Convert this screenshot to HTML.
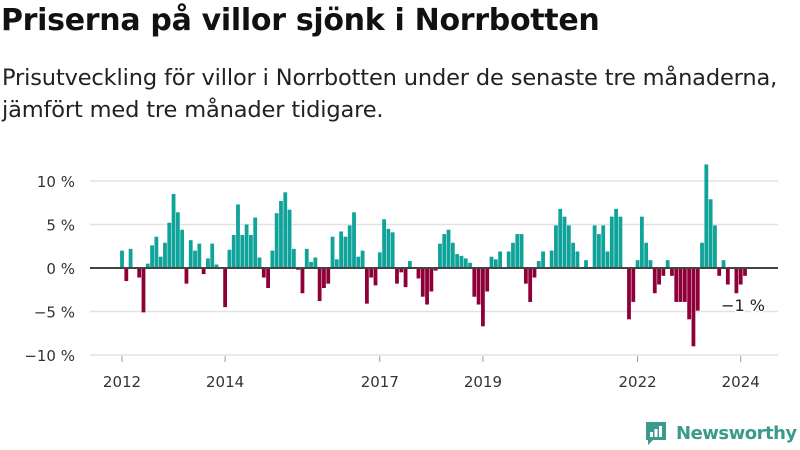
<!DOCTYPE html>
<html><head><meta charset="utf-8"><style>
body{margin:0;width:800px;height:450px;background:#fff;font-family:"DejaVu Sans","Liberation Sans",sans-serif;overflow:hidden;position:relative}
h1{position:absolute;left:1px;top:3px;margin:0;font-size:30px;font-weight:bold;color:#111;letter-spacing:-0.3px;white-space:nowrap}
.sub{position:absolute;left:2px;top:62px;font-size:22.5px;line-height:32px;color:#222;letter-spacing:-0.15px;white-space:nowrap}
svg{position:absolute;left:0;top:0}
svg text{font-family:"DejaVu Sans","Liberation Sans",sans-serif}
</style></head><body>
<h1>Priserna på villor sjönk i Norrbotten</h1>
<div class="sub">Prisutveckling för villor i Norrbotten under de senaste tre månaderna,<br>jämfört med tre månader tidigare.</div>
<svg id="c" width="800" height="450"></svg>
<script>
const values=[2,-1.5,2.2,0.1,-1.1,-5.1,0.5,2.6,3.6,1.3,2.9,5.2,8.5,6.4,4.4,-1.8,3.2,2.0,2.8,-0.7,1.1,2.8,0.4,0,-4.5,2.1,3.8,7.3,3.8,5.0,3.8,5.8,1.2,-1.1,-2.3,2.0,6.3,7.7,8.7,6.7,2.2,-0.2,-2.9,2.2,0.7,1.2,-3.8,-2.3,
-1.8,3.6,1.0,4.2,3.6,4.9,6.4,1.3,2.0,-4.1,-1.1,-2.0,1.8,5.6,4.5,4.1,-1.8,-0.5,-2.2,0.8,-0.1,-1.2,-3.3,-4.2,-2.7,-0.3,2.8,3.9,4.4,2.9,1.6,1.4,1.1,0.6,-3.3,-4.2,-6.7,-2.7,1.3,1.0,1.9,0,1.9,2.9,3.9,3.9,-1.8,-3.9,-1.1,0.8,1.9,0,2.0,4.9,6.8,
5.9,4.9,2.9,1.9,0,0.9,0,4.9,3.9,4.9,1.9,5.9,6.8,5.9,0,-5.9,-3.9,0.9,5.9,2.9,0.9,-2.9,-1.9,-0.9,0.9,-0.9,-3.9,-3.9,-3.9,-5.9,-9.0,-4.9,2.9,11.9,7.9,4.9,-0.9,0.9,-1.9,0,-2.9,-1.9,-0.9];
const yTicks=[10,5,0,-5,-10];
const yTickLabels=["10 %","5 %","0 %","−5 %","−10 %"];
const xTickIdx=[0,24,60,84,120,144];
const xTickLabels=["2012","2014","2017","2019","2022","2024"];
const lastLabel="−1 %";
const svg=document.getElementById('c');const NS="http://www.w3.org/2000/svg";
const x=i=>122+i*(623/(values.length-1));
const y=v=>268-v*8.7;
function el(t,a,p){const e=document.createElementNS(NS,t);for(const k in a)e.setAttribute(k,a[k]);(p||svg).appendChild(e);return e;}
yTicks.forEach((t,i)=>{
 const g=el('line',{x1:90,x2:778,y1:y(t),y2:y(t),stroke:'#e2e2e2','stroke-width':1.5});
 
 
 const l=el('text',{x:75,y:y(t)+6,'text-anchor':'end','font-size':15,fill:'#333'});
 l.textContent=yTickLabels[i];
 
 
});
values.forEach((v,i)=>{
 const r=el('rect',{x:x(i)-1.9,width:3.8,y:v>=0?y(v):y(0),height:Math.abs(y(v)-y(0)),fill:v>=0?'#0fa39a':'#8f0039'});
 
 
});
const z=el('line',{x1:90,x2:778,y1:y(0),y2:y(0),stroke:'#444','stroke-width':2});


xTickIdx.forEach((k,i)=>{
 const t=el('line',{x1:x(k),x2:x(k),y1:356,y2:362,stroke:'#999'});
 
 
 const l=el('text',{x:x(k),y:387,'text-anchor':'middle','font-size':15,fill:'#333'});
 l.textContent=xTickLabels[i];
 
 
});
const ll=el('text',{x:x(values.length-1)+20,y:y(values[values.length-1])+35,'text-anchor':'end','font-size':16,fill:'#222',stroke:'#fff','stroke-width':3,'paint-order':'stroke'});
ll.textContent=lastLabel;


</script>
<div style="position:absolute;left:644px;top:420px;display:flex;align-items:center">
<svg width="24" height="26" style="position:static"><path d="M2 2h20v18H9l-5 5v-5H2z" fill="#3a9a8c"/><rect x="6" y="12" width="3" height="5" fill="#fff"/><rect x="10.5" y="9" width="3" height="8" fill="#fff"/><rect x="15" y="6" width="3" height="11" fill="#fff"/></svg>
<span style="font-size:18px;font-weight:bold;color:#3a9a8c;margin-left:8px;letter-spacing:-0.5px">Newsworthy</span></div>
</body></html>
